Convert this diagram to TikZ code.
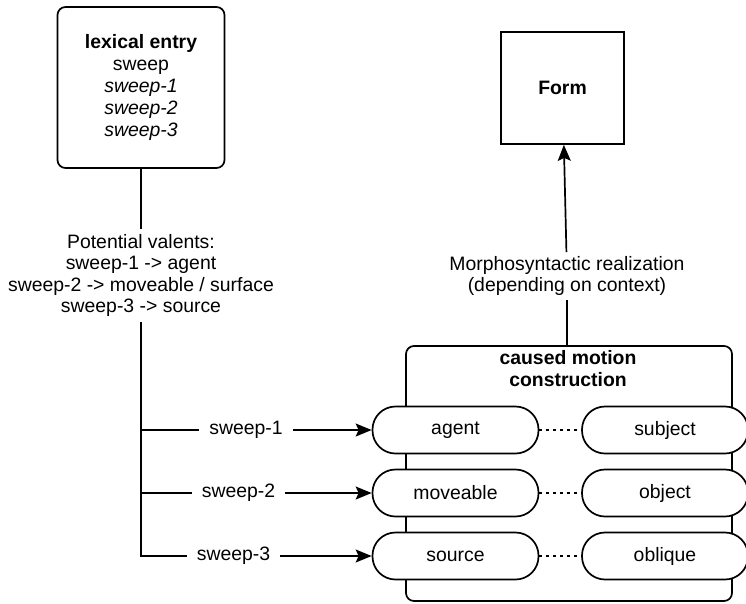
\documentclass[tikz,border=0pt]{standalone}
\usepackage{fontspec}
\setmainfont{Liberation Sans}
\usetikzlibrary{arrows.meta}
\tikzset{
	txt/.style={font=\fontsize{19.4}{21.5}\selectfont, align=center},
	box/.style={txt, draw, line width=1.7pt},
	pill/.style={box, fill=white, minimum width=166pt, minimum height=47pt, rounded corners=23pt},
	link/.style={line width=1.7pt},
	arr/.style={link, -{Stealth[length=16pt, width=13pt, inset=3pt]}},
	dotline/.style={line width=1.6pt, dash pattern=on 2.5pt off 4.5pt}
}

\begin{document}
\begin{tikzpicture}[x=1pt, y=-1pt]
		%%%%% START %%%%%
		\useasboundingbox (0, 0) rectangle (746, 603);
		
		\node[box, rounded corners=8pt, minimum width=167pt, minimum height=161pt, font=\fontsize{19.4}{22}\selectfont] (lex) at (141, 87.5) {\textbf{lexical entry}\\sweep\\\textit{sweep-1}\\\textit{sweep-2}\\\textit{sweep-3}};
		\node[txt, inner sep=5pt] (valents) at (141, 275.5) {Potential valents:\\sweep-1 -> agent\\sweep-2 -> moveable / surface\\sweep-3 -> source};
		\draw[link] (lex) -- (valents);
		
		\node[box, minimum width=123pt, minimum height=112pt, font=\bfseries\fontsize{19.4}{21.5}\selectfont] (form) at (562.5, 88) {Form};
		\node[txt, inner sep=4pt] (morph) at (567, 276) {Morphosyntactic realization\\(depending on context)};
		
		\node[box, rounded corners=8pt, minimum width=326pt, minimum height=255pt] (cmc) at (569, 473.5) {};
		\node[txt, font=\bfseries\fontsize{19.4}{21.5}\selectfont] (cmctitle) at (568, 368.5) {caused motion\\construction};
		\draw[link] (morph) -- (morph |- cmc.north);
		\draw[arr] (morph) -- (form);
		
		\node[pill] (agent) at (455.5, 430) {agent};
		\node[pill] (moveable) at (455.5, 493) {moveable};
		\node[pill] (source) at (455.5, 556) {source};
		\node[pill] (subject) at (665, 430) {subject};
		\node[pill] (object) at (665, 493) {object};
		\node[pill] (oblique) at (665, 556) {oblique};
		\draw[dotline] (agent) -- (subject);
		\draw[dotline] (moveable) -- (object);
		\draw[dotline] (source) -- (oblique);
		
		\coordinate (t1) at (141, 430);
		\coordinate (t2) at (141, 493);
		\coordinate (t3) at (141, 556);
		\node[txt, inner xsep=10pt] (s1) at (246, 430) {sweep-1};
		\node[txt, inner xsep=10pt] (s2) at (238.5, 493) {sweep-2};
		\node[txt, inner xsep=10pt] (s3) at (233.5, 556) {sweep-3};
		\draw[link] (valents) -- (t3) -- (s3);
		\draw[link] (t1) -- (s1);
		\draw[link] (t2) -- (s2);
		\draw[arr] (s1) -- (agent);
		\draw[arr] (s2) -- (moveable);
		\draw[arr] (s3) -- (source);
		
		%%%%% END %%%%%
	\end{tikzpicture}
\end{document}
